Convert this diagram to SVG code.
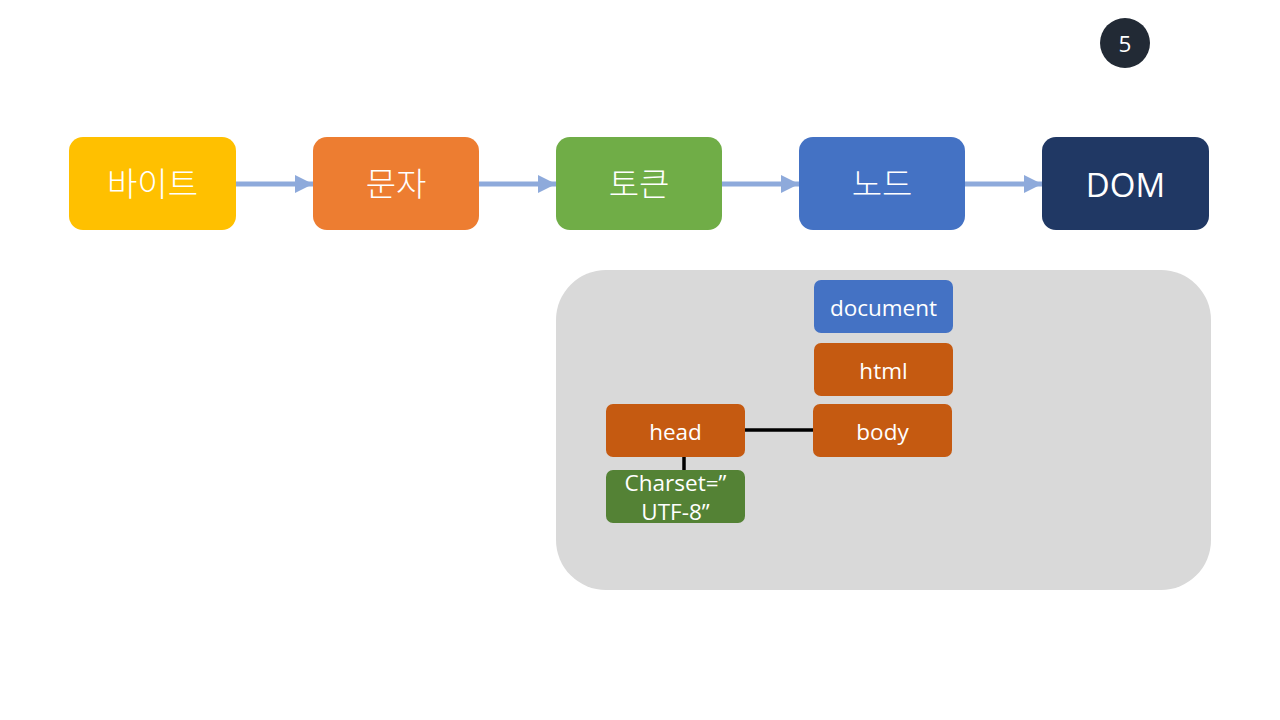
<svg xmlns="http://www.w3.org/2000/svg" width="1280" height="720" viewBox="0 0 1280 720">
<style>
.big{font-family:"Noto Sans CJK KR","Noto Sans",sans-serif;font-size:33px;font-weight:300;fill:#fff;text-anchor:middle;dominant-baseline:central}
.lat{font-family:"Open Sans","Noto Sans",sans-serif;font-size:33px;fill:#fff;text-anchor:middle;dominant-baseline:central}
.sm{font-family:"Open Sans","Noto Sans",sans-serif;font-size:22.5px;fill:#fff;text-anchor:middle;dominant-baseline:central}
.arr{stroke:#8EAADB;stroke-width:5;fill:none}
.ln{stroke:#000;stroke-width:3.5;fill:none}
</style>
<defs>
<marker id="ah" viewBox="0 0 10 10" refX="10" refY="5" markerWidth="3.6" markerHeight="3.6" markerUnits="strokeWidth" orient="auto">
<path d="M0,0 L10,5 L0,10 Z" fill="#8EAADB"/>
</marker>
</defs>
<rect width="1280" height="720" fill="#fff"/>
<g id="badge"><circle cx="1125" cy="43" r="25" fill="#222A35"/><text class="sm" x="1125" y="43">5</text></g>
<g id="panel"><rect x="556" y="270" width="655" height="320" rx="50" fill="#D9D9D9"/></g>
<g id="connectors">
<line class="arr" x1="236" y1="184" x2="313" y2="184" marker-end="url(#ah)"/>
<line class="arr" x1="479" y1="184" x2="556" y2="184" marker-end="url(#ah)"/>
<line class="arr" x1="722" y1="184" x2="799" y2="184" marker-end="url(#ah)"/>
<line class="arr" x1="965" y1="184" x2="1042" y2="184" marker-end="url(#ah)"/>
<line class="ln" x1="745" y1="430" x2="813" y2="430"/>
<line class="ln" x1="684" y1="457" x2="684" y2="470"/>
</g>
<g id="n-byte"><rect x="69" y="137" width="167" height="93" rx="14" fill="#FFC000"/><text class="big" x="152.5" y="182">바이트</text></g>
<g id="n-char"><rect x="313" y="137" width="166" height="93" rx="14" fill="#ED7D31"/><text class="big" x="396" y="182">문자</text></g>
<g id="n-token"><rect x="556" y="137" width="166" height="93" rx="14" fill="#70AD47"/><text class="big" x="639" y="182">토큰</text></g>
<g id="n-node"><rect x="799" y="137" width="166" height="93" rx="14" fill="#4472C4"/><text class="big" x="882" y="182">노드</text></g>
<g id="n-dom"><rect x="1042" y="137" width="167" height="93" rx="14" fill="#203864"/><text class="lat" x="1125.5" y="184">DOM</text></g>
<g id="n-document"><rect x="814" y="280" width="139" height="53" rx="7" fill="#4472C4"/><text class="sm" x="883.5" y="307">document</text></g>
<g id="n-html"><rect x="814" y="343" width="139" height="53" rx="7" fill="#C55A11"/><text class="sm" x="883.5" y="370">html</text></g>
<g id="n-head"><rect x="606" y="404" width="139" height="53" rx="7" fill="#C55A11"/><text class="sm" x="675.5" y="431">head</text></g>
<g id="n-body"><rect x="813" y="404" width="139" height="53" rx="7" fill="#C55A11"/><text class="sm" x="882.5" y="431">body</text></g>
<g id="n-charset"><rect x="606" y="470" width="139" height="53" rx="7" fill="#548235"/><text class="sm" x="675.5" y="482">Charset=”</text><text class="sm" x="675.5" y="511">UTF-8”</text></g>
</svg>
